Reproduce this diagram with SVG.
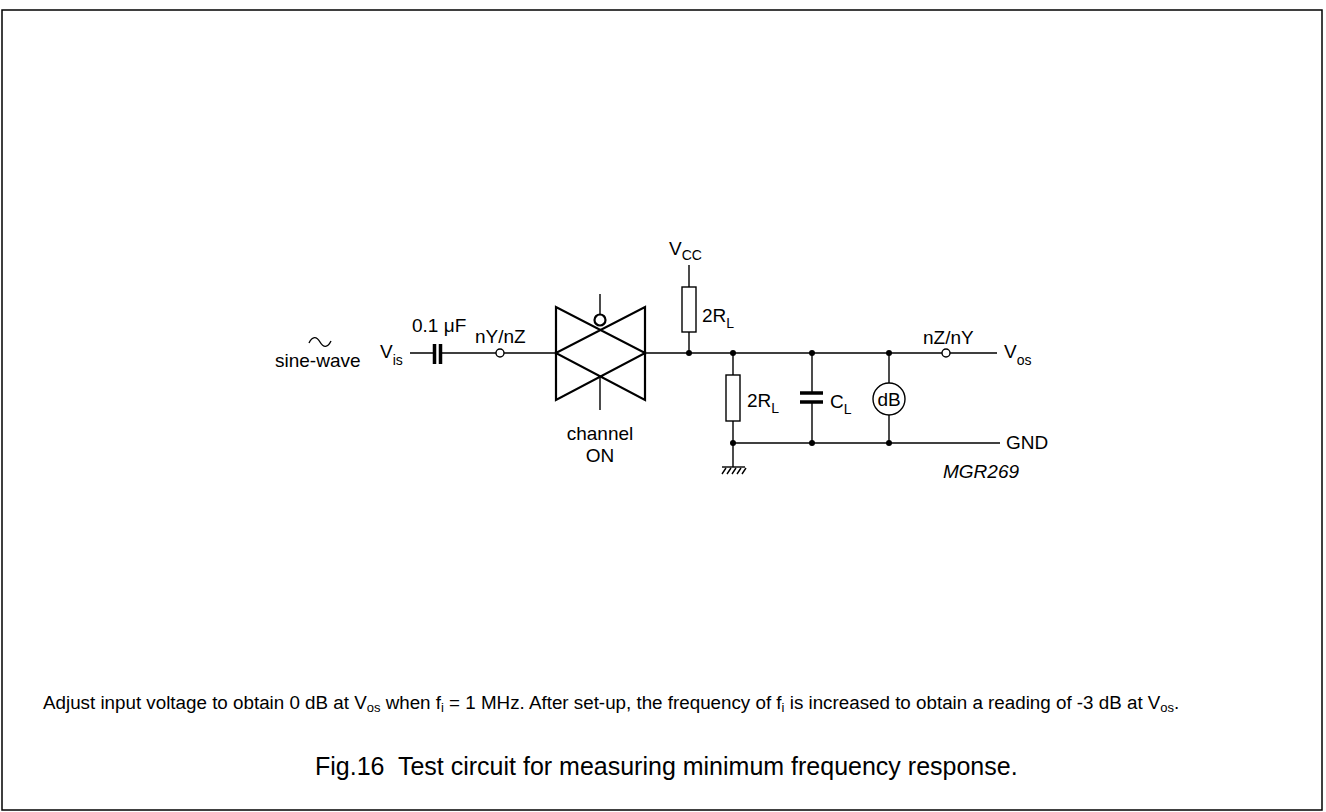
<svg xmlns="http://www.w3.org/2000/svg" width="1326" height="812" viewBox="0 0 1326 812">
<defs>
<style>
text{font-family:"Liberation Sans",Arial,sans-serif;fill:#000;font-size:19px}
.sub{font-size:14px}
.w{stroke:#000;stroke-width:1.4;fill:none}
.t{stroke:#000;stroke-width:2.2;fill:none;stroke-linejoin:miter}
.dot{fill:#000}
.plate{stroke:#000;stroke-width:3.5;fill:none}
.note{font-size:18.8px}
.ns{font-size:13px}
.cap{font-size:25px}
</style>
</defs>
<rect width="1326" height="812" fill="#fff"/>
<rect x="2" y="10" width="1320" height="800" fill="none" stroke="#000" stroke-width="1.5"/>

<g id="connectors">
<path class="w" d="M410 353H433 M442 353H496 M504 353H556"/>
<path class="w" d="M645 353H942 M950 353H997"/>
<path class="w" d="M689 265V287 M689 332V353"/>
<path class="w" d="M733 353V375 M733 421V467"/>
<path class="w" d="M733 443H1000"/>
<path class="w" d="M812 353V392 M812 403V443"/>
<path class="w" d="M889 353V383 M889 415V443"/>
<path class="w" d="M600 294V314.5 M600 377V410"/>
</g>

<g id="source">
<path class="w" d="M309 343c3.5-7 7.5-7 11-1s7.5 6 11-1"/>
<text x="275" y="367">sine-wave</text>
</g>

<g id="vis">
<text x="380" y="358">V<tspan class="sub" dy="7">is</tspan></text>
</g>

<g id="c1">
<path class="plate" d="M434.5 344V364 M440.5 344V364"/>
<text x="412" y="332">0.1 μF</text>
</g>

<g id="pin-in">
<circle cx="500" cy="353" r="4" fill="#fff" stroke="#000" stroke-width="1.4"/>
<text x="475" y="343">nY/nZ</text>
</g>

<g id="switch">
<path class="t" d="M556 307V353L645 307V353L556 307Z"/>
<path class="t" d="M556 353V400L645 353V400L556 353Z"/>
<circle cx="600" cy="320" r="5.5" fill="#fff" stroke="#000" stroke-width="2.2"/>
<text x="600" y="440" text-anchor="middle">channel</text>
<text x="600" y="462" text-anchor="middle">ON</text>
</g>

<g id="vcc">
<text x="669" y="255">V<tspan class="sub" dy="5">CC</tspan></text>
</g>

<g id="r1">
<rect x="682" y="287" width="14" height="45" fill="#fff" stroke="#000" stroke-width="1.4"/>
<text x="702" y="322">2R<tspan class="sub" dy="6">L</tspan></text>
</g>

<g id="r2">
<rect x="726" y="375" width="14" height="46" fill="#fff" stroke="#000" stroke-width="1.4"/>
<text x="747" y="407">2R<tspan class="sub" dy="6">L</tspan></text>
</g>

<g id="gnd-sym">
<path class="w" stroke-width="2.4" d="M722 467H745"/>
<path class="w" stroke-width="1" d="M726 468L722 474 M731 468L727 474 M736 468L732 474 M741 468L737 474 M746 468L742 474"/>
</g>

<g id="cl">
<path class="plate" d="M800 393H823 M800 402H823"/>
<text x="830" y="408">C<tspan class="sub" dy="6">L</tspan></text>
</g>

<g id="meter">
<circle cx="889" cy="399" r="16" fill="#fff" stroke="#000" stroke-width="1.4"/>
<text x="889" y="406" text-anchor="middle">dB</text>
</g>

<g id="pin-out">
<circle cx="946" cy="353" r="4" fill="#fff" stroke="#000" stroke-width="1.4"/>
<text x="923" y="344">nZ/nY</text>
</g>

<g id="vos">
<text x="1004" y="358">V<tspan class="sub" dy="7">os</tspan></text>
</g>

<g id="gnd">
<text x="1006" y="449">GND</text>
</g>

<g id="junctions">
<circle class="dot" cx="689" cy="353" r="3"/>
<circle class="dot" cx="733" cy="353" r="3"/>
<circle class="dot" cx="812" cy="353" r="3"/>
<circle class="dot" cx="889" cy="353" r="3"/>
<circle class="dot" cx="733" cy="443" r="3"/>
<circle class="dot" cx="812" cy="443" r="3"/>
<circle class="dot" cx="889" cy="443" r="3"/>
</g>

<text x="943" y="478" font-size="14" font-style="italic">MGR269</text>

<text class="note" x="43" y="709">Adjust input voltage to obtain 0 dB at V<tspan class="ns" dy="3">os</tspan><tspan dy="-3"> when f</tspan><tspan class="ns" dy="3">i</tspan><tspan dy="-3"> = 1 MHz. After set-up, the frequency of f</tspan><tspan class="ns" dy="3">i</tspan><tspan dy="-3"> is increased to obtain a reading of -3 dB at V</tspan><tspan class="ns" dy="3">os</tspan><tspan dy="-3">.</tspan></text>

<text class="cap" x="315" y="775" xml:space="preserve">Fig.16  Test circuit for measuring minimum frequency response.</text>
</svg>
